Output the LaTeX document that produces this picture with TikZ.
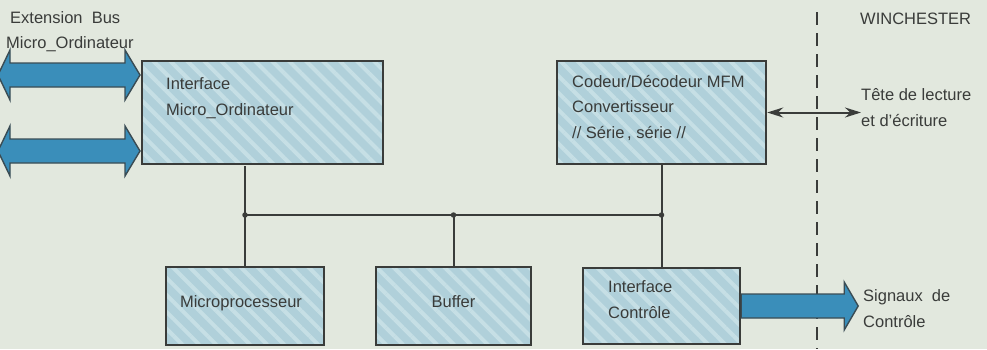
\documentclass[tikz,border=0pt]{standalone}
\usepackage{fontspec}
\setmainfont{Liberation Sans}
\usetikzlibrary{calc, positioning, arrows.meta, patterns.meta}

\definecolor{paper}{RGB}{226,232,222}
\definecolor{boxblue}{RGB}{176,208,218}
\definecolor{boxlight}{RGB}{198,223,229}
\definecolor{busblue}{RGB}{58,142,186}
\definecolor{ink}{RGB}{58,60,58}

\tikzset{
  blockbox/.style={draw=ink, line width=2.4pt, preaction={fill=boxblue},
    pattern={Lines[angle=-45,distance=12pt,line width=4pt]}, pattern color=boxlight},
  txt/.style={inner sep=0pt, text=ink, align=left,
    font=\fontsize{16.5}{25.5}\selectfont},
  wire/.style={draw=ink, line width=2pt},
  fatarrow/.style={draw=ink!80!busblue, line width=1.4pt, fill=busblue, line join=miter},
  junction/.style={circle, fill=ink, inner sep=0pt, minimum size=5.5pt}
}

\begin{document}
\begin{tikzpicture}[x=1pt, y=-1pt]
  \useasboundingbox[fill=paper] (0,0) rectangle (987,349);

  % blocks
  \node[blockbox, minimum width=241pt, minimum height=103pt] (iface) at (262.5,112.5) {};
  \node[blockbox, minimum width=209pt, minimum height=103pt] (cod) at (661.5,112.5) {};
  \node[blockbox, minimum width=158pt, minimum height=78pt] (micro) at (245,306) {};
  \node[blockbox, minimum width=155pt, minimum height=78pt] (buf) at (453.5,306) {};
  \node[blockbox, minimum width=157pt, minimum height=76pt] (ictl) at (661.5,306) {};

  % block texts (base = last line)
  \node[txt, anchor=base west] (ifacetxt) at (166,115) {Interface\\Micro\_Ordinateur};
  \node[txt, anchor=base west] (codtxt) at (572,138) {Codeur/Décodeur MFM\\Convertisseur\\// Série\,, série //};
  \node[txt, anchor=base] (microtxt) at (241,307) {Microprocesseur};
  \node[txt, anchor=base] (buftxt) at (453.5,307) {Buffer};
  \node[txt, anchor=base west] (ictltxt) at (608,318) {Interface\\Contrôle};

  % outside labels
  \node[txt, anchor=base west] (extbus) at (10,23) {Extension\ \ Bus};
  \node[txt, anchor=base west] (extmicro) at (6,48) {Micro\_Ordinateur};
  \node[txt, anchor=base west] (winch) at (860,24) {WINCHESTER};
  \node[txt, anchor=base west] (tete) at (861,126) {Tête de lecture\\et d'écriture};
  \node[txt, anchor=base west] (signaux) at (863,327) {Signaux\ \ de\\Contrôle};

  % boundary of the drive
  \draw[draw=ink, line width=1.5pt, dash pattern=on 13pt off 8pt] (817,12) -- (817,349);

  % internal bus
  \coordinate (bus) at (0,215);
  \draw[wire] (micro.north) -- (micro.north |- iface.south);
  \draw[wire] (cod.south) -- (ictl.north);
  \draw[wire] (micro.north |- bus) -- (cod.south |- bus);
  \draw[wire] (buf.north) -- (buf.north |- bus);
  \node[junction] (j1) at (micro.north |- bus) {};
  \node[junction] (j2) at (buf.north |- bus) {};
  \node[junction] (j3) at (cod.south |- bus) {};

  % read / write head link
  \draw[draw=ink, line width=2pt, {Stealth[length=16pt,width=10pt]}-{Stealth[length=16pt,width=10pt]}]
    (cod.east) -- (cod.east -| tete.west);

  % extension bus arrows
  \foreach \dy in {-37.5, 38.5} {
    \draw[fatarrow] ($(iface.west)+(0,\dy)$) -- ++(-15,-25) -- ++(0,13) -- ++(-115,0)
      -- ++(0,-13) -- ++(-12,25) -- ++(12,25) -- ++(0,-13) -- ++(115,0) -- ++(0,13) -- cycle;
  }

  % control signals arrow
  \draw[fatarrow] ($(ictl.east)+(0,-12)$) -- ++(103,0) -- ++(0,-12) -- ++(14,24)
    -- ++(-14,24) -- ++(0,-12) -- ++(-103,0) -- cycle;
\end{tikzpicture}
\end{document}
